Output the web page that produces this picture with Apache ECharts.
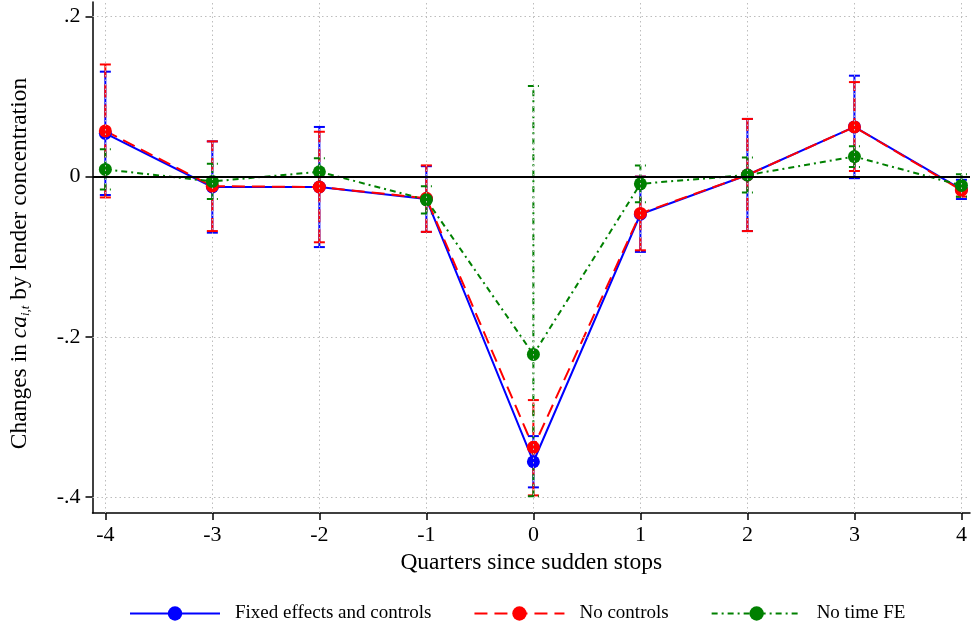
<!DOCTYPE html>
<html>
<head>
<meta charset="utf-8">
<script src="https://cdn.jsdelivr.net/npm/echarts@6/dist/echarts.min.js"></script>
<style>
  html, body { margin: 0; padding: 0; background: #fff; }
  #chart { width: 972px; height: 630px; }
</style>
</head>
<body>
<div id="chart"></div>
<script>
// Event-study estimates around sudden stops, by quarter
const quarters = [-4, -3, -2, -1, 0, 1, 2, 3, 4];

// Fixed effects and controls
const feCoef = [0.054, -0.013, -0.013, -0.028, -0.356, -0.047, 0.002, 0.062, -0.016];
const feLow  = [-0.023, -0.070, -0.088, -0.069, -0.388, -0.094, -0.068, -0.002, -0.028];
const feHigh = [0.131, 0.044, 0.062, 0.013, -0.324, 0.000, 0.072, 0.126, -0.004];

// No controls
const ncCoef = [0.057, -0.012, -0.013, -0.027, -0.338, -0.046, 0.002, 0.062, -0.017];
const ncLow  = [-0.026, -0.068, -0.082, -0.069, -0.398, -0.092, -0.068, 0.007, -0.025];
const ncHigh = [0.140, 0.044, 0.056, 0.014, -0.279, 0.000, 0.072, 0.118, -0.009];

// No time FE
const ntCoef = [0.009, -0.006, 0.006, -0.029, -0.222, -0.009, 0.002, 0.025, -0.011];
const ntLow  = [-0.016, -0.028, -0.011, -0.046, -0.399, -0.032, -0.020, 0.012, -0.025];
const ntHigh = [0.034, 0.016, 0.023, -0.012, 0.113, 0.014, 0.024, 0.038, 0.003];

// Axis ticks
const xTicks = [-4, -3, -2, -1, 0, 1, 2, 3, 4];
const yTicks = [0.2, 0, -0.2, -0.4];
const yTickLabels = ['.2', '0', '-.2', '-.4'];
const yGrid = [0.2, -0.2, -0.4];

const FONT = 'Liberation Serif';
const BLUE = '#0000ff', RED = '#ff0000', GREEN = '#008000';
const DASH = [13, 7];
const DASHDOT = [6, 4, 2, 4];

function errorBars(name, lows, highs, color, dash, z) {
  return {
    type: 'custom',
    name: name,
    z: z,
    silent: true,
    data: quarters.map((q, i) => [q, lows[i], highs[i]]),
    encode: { x: 0, y: [1, 2] },
    renderItem: function (params, api) {
      const x = api.value(0);
      const lo = api.coord([x, api.value(1)]);
      const hi = api.coord([x, api.value(2)]);
      const hw = 5.5;
      const style = { stroke: color, lineWidth: 2, lineDash: dash, fill: null };
      return {
        type: 'group',
        children: [
          { type: 'line', shape: { x1: lo[0], y1: lo[1], x2: hi[0], y2: hi[1] }, style: style },
          { type: 'line', shape: { x1: lo[0] - hw, y1: lo[1], x2: lo[0] + hw, y2: lo[1] }, style: style },
          { type: 'line', shape: { x1: hi[0] - hw, y1: hi[1], x2: hi[0] + hw, y2: hi[1] }, style: style }
        ]
      };
    }
  };
}

function estimateLine(name, coef, color, dash, z) {
  return {
    type: 'line',
    name: name,
    z: z,
    data: quarters.map((q, i) => [q, coef[i]]),
    symbol: 'circle',
    symbolSize: 13,
    showSymbol: true,
    lineStyle: { color: color, width: 2, type: dash },
    itemStyle: { color: color },
    emphasis: { disabled: true },
    animation: false
  };
}

const chart = echarts.init(document.getElementById('chart'), null, { renderer: 'canvas' });

const option = {
  animation: false,
  backgroundColor: '#fff',
  grid: { left: 92, right: 2, top: 2, bottom: 117, containLabel: false },
  xAxis: {
    type: 'value',
    min: -4.12,
    max: 4.08,
    name: 'Quarters since sudden stops',
    nameLocation: 'middle',
    nameGap: 37,
    nameTextStyle: { fontFamily: FONT, fontSize: 23.5, color: '#000' },
    axisLine: { onZero: false, lineStyle: { color: '#000', width: 1.5 } },
    axisTick: { show: true, customValues: xTicks, length: 7, lineStyle: { color: '#000', width: 1.5 } },
    axisLabel: { customValues: xTicks, margin: 11, fontFamily: FONT, fontSize: 22, color: '#000' },
    splitLine: { show: false }
  },
  yAxis: {
    type: 'value',
    min: -0.42,
    max: 0.218,
    name: 'Changes in {it|ca}{sub|i,t} by lender concentration',
    nameLocation: 'middle',
    nameGap: 60,
    nameRotate: 90,
    nameTextStyle: {
      fontFamily: FONT, fontSize: 23.5, color: '#000',
      padding: [0, 12, 0, 0],
      rich: {
        it: { fontFamily: FONT, fontSize: 23.5, fontStyle: 'italic', color: '#000' },
        sub: { fontFamily: FONT, fontSize: 13, fontStyle: 'italic', color: '#000', padding: [12, 0, 0, 0] }
      }
    },
    axisLine: { onZero: false, lineStyle: { color: '#000', width: 1.5 } },
    axisTick: { show: true, customValues: yTicks, length: 7, lineStyle: { color: '#000', width: 1.5 } },
    axisLabel: {
      customValues: yTicks,
      margin: 12,
      fontFamily: FONT, fontSize: 22, color: '#000',
      formatter: function (v) {
        const i = yTicks.findIndex(t => Math.abs(t - v) < 1e-9);
        return i >= 0 ? yTickLabels[i] : '';
      }
    },
    splitLine: { show: false }
  },
  legend: {
    data: ['Fixed effects and controls', 'No controls', 'No time FE'],
    left: 129,
    top: 604,
    padding: 0,
    itemWidth: 90,
    itemHeight: 18,
    itemGap: 42,
    textStyle: { fontFamily: FONT, fontSize: 19, color: '#000', padding: [0, 0, 0, 10] },
    selectedMode: false
  },
  series: [
    {
      // reference grid and zero line
      type: 'line',
      name: 'grid',
      data: [],
      z: 1,
      silent: true,
      markLine: {
        silent: true,
        symbol: 'none',
        label: { show: false },
        animation: false,
        data: xTicks.map(t => ({ xAxis: t, lineStyle: { color: '#bdbdbd', width: 1, type: [1.5, 3] } }))
          .concat(yGrid.map(t => ({ yAxis: t, lineStyle: { color: '#bdbdbd', width: 1, type: [1.5, 3] } })))
          .concat([{ yAxis: 0, lineStyle: { color: '#000', width: 2, type: 'solid' } }])
      }
    },
    errorBars('feCI', feLow, feHigh, BLUE, null, 2),
    errorBars('ncCI', ncLow, ncHigh, RED, DASH, 2),
    errorBars('ntCI', ntLow, ntHigh, GREEN, DASHDOT, 2),
    estimateLine('Fixed effects and controls', feCoef, BLUE, 'solid', 3),
    estimateLine('No controls', ncCoef, RED, DASH, 3),
    estimateLine('No time FE', ntCoef, GREEN, DASHDOT, 3)
  ]
};

chart.setOption(option);
</script>
</body>
</html>
